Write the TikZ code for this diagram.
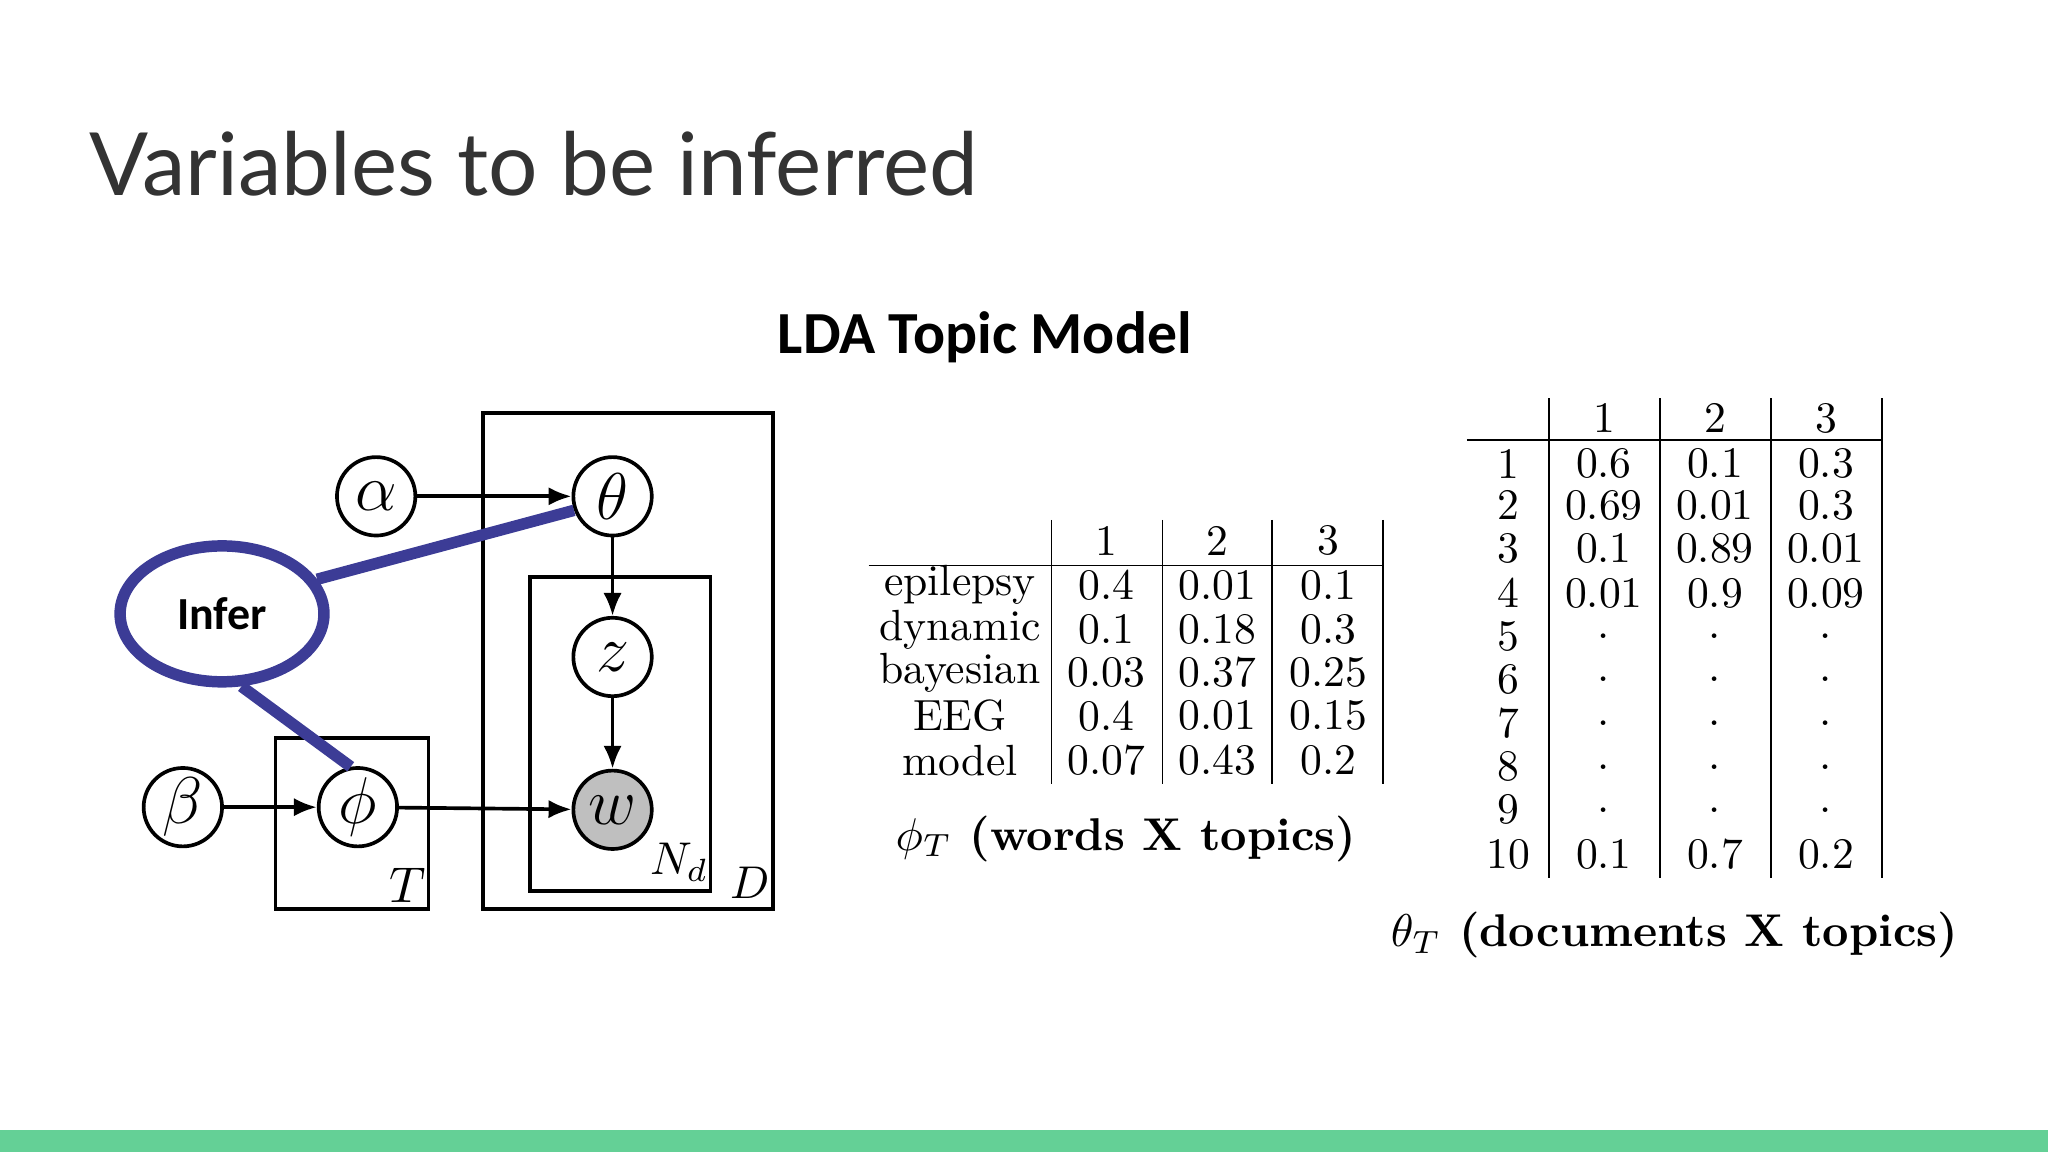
\documentclass[tikz,border=0pt]{standalone}
\usepackage{fontspec}
\newfontfamily\latofont{Lato}
\newfontfamily\calfont{Carlito}
\usetikzlibrary{arrows.meta,shapes.geometric}
\definecolor{inferblue}{RGB}{60,60,150}
\definecolor{barg}{RGB}{100,208,150}
\begin{document}
\begin{tikzpicture}[x=0.01cm,y=-0.01cm,
  var/.style={circle,draw,thick,minimum size=0.6cm,inner sep=0pt,font=\fontsize{15}{15}\selectfont},
  arr/.style={thick,-{Latex[length=5pt,width=4pt]}},
  plate/.style={draw,thick},
  cell/.style={font=\fontsize{9.5}{10}\selectfont,inner sep=0pt},
  infl/.style={draw=inferblue,line width=2.5pt}]
\useasboundingbox (0,0) rectangle (1568,882);
\fill[barg] (0,865) rectangle (1568,882);
\node[anchor=base west,inner sep=0pt,text=black!80,font=\latofont\fontsize{19}{19}\selectfont] (title) at (68,150) {Variables to be inferred};
\node[font=\calfont\bfseries\fontsize{13}{13}\selectfont] (lda) at (754,258) {LDA Topic Model};
% plates
\draw[plate] (370,316) rectangle (592,696);
\draw[plate] (406,442) rectangle (544,682);
\draw[plate] (211,565) rectangle (328,696);
\node[font=\itshape\fontsize{11}{11}\selectfont] (lT) at (312,678) {$T$};
\node (lN) at (520,660) {$N_d$};
\node (lD) at (574,676) {$D$};
% variables
\node[var] (alpha) at (288,380) {$\alpha$};
\node[var] (theta) at (469,380) {$\theta$};
\node[var] (z) at (469,503) {$z$};
\node[var,fill=black!25] (w) at (469,620) {$w$};
\node[var] (beta) at (140,618) {$\beta$};
\node[var] (phi) at (274,618) {$\phi$};
\draw[arr] (alpha) -- (theta);
\draw[arr] (theta) -- (z);
\draw[arr] (z) -- (w);
\draw[arr] (beta) -- (phi);
\draw[arr] (phi) -- (w);
\node[ellipse,draw=inferblue,line width=2.5pt,minimum width=1.56cm,minimum height=1.04cm,font=\calfont\bfseries\fontsize{10}{10}\selectfont] (infer) at (170,470) {Infer};
\draw[infl] (infer.20) -- (theta.200);
\draw[infl] (infer.-75) -- (phi.100);
% phi table
\foreach \x in {805,890,974,1059} \draw (\x,398) -- (\x,600);
\draw (665,433) -- (1060,433);
\foreach \c/\x in {1/847,2/932,3/1017} \node[cell] (ph\c) at (\x,414) {\c};
\foreach \r/\y/\word/\a/\b/\cc in {1/448/epilepsy/0.4/0.01/0.1,2/482/dynamic/0.1/0.18/0.3,3/515/bayesian/0.03/0.37/0.25,4/548/EEG/0.4/0.01/0.15,5/582/model/0.07/0.43/0.2}{
  \node[cell] (pw\r) at (735,\y) {\word};
  \node[cell] (pa\r) at (847,\y) {\a};
  \node[cell] (pb\r) at (932,\y) {\b};
  \node[cell] (pc\r) at (1017,\y) {\cc};}
\node[cell,font=\bfseries\fontsize{10}{10}\selectfont] (capphi) at (862,642) {$\phi_T$ (words X topics)};
% theta table
\foreach \x in {1186,1271,1356,1441} \draw (\x,305) -- (\x,672);
\draw (1123,337) -- (1441,337);
\foreach \c/\x in {1/1228,2/1313,3/1398} \node[cell] (th\c) at (\x,320) {\c};
\foreach \r/\y/\a/\b/\cc in {1/355/0.6/0.1/0.3,2/387/0.69/0.01/0.3,3/420/0.1/0.89/0.01,4/454/0.01/0.9/0.09,5/487/./././,6/520/./././,7/554/./././,8/587/./././,9/620/./././,10/654/0.1/0.7/0.2}{
  \node[cell] (tr\r) at (1155,\y) {\r};
  \node[cell] (ta\r) at (1228,\y) {\a};
  \node[cell] (tb\r) at (1313,\y) {\b};
  \node[cell] (tc\r) at (1398,\y) {\cc};}
\node[cell,font=\bfseries\fontsize{10}{10}\selectfont] (captheta) at (1282,716) {$\theta_T$ (documents X topics)};
\end{tikzpicture}
\end{document}
